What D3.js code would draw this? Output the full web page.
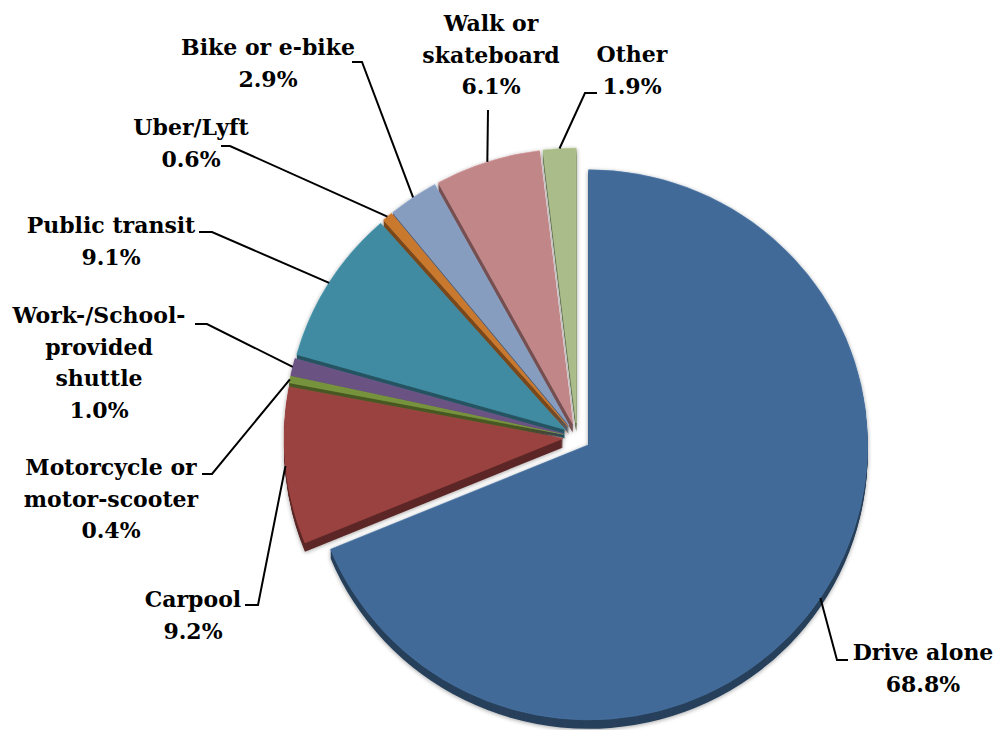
<!DOCTYPE html>
<html>
<head>
<meta charset="utf-8">
<script src="https://cdn.jsdelivr.net/npm/d3@7/dist/d3.min.js"></script>
<style>
  html, body { margin: 0; padding: 0; background: #ffffff; }
  svg { display: block; }
  .lbl { font-family: "DejaVu Serif", serif; font-weight: bold; font-size: 22px; fill: #000; }
</style>
</head>
<body>
<svg id="chart" width="999" height="730"></svg>
<script>
// Commute mode shares (percent of respondents)
const categories = ["Drive alone", "Carpool", "Motorcycle or motor-scooter",
  "Work-/School-provided shuttle", "Public transit", "Uber/Lyft",
  "Bike or e-bike", "Walk or skateboard", "Other"];
const shares = [68.8, 9.2, 0.4, 1.0, 9.1, 0.6, 2.9, 6.1, 1.9];
const labelLines = [["Drive alone"], ["Carpool"], ["Motorcycle or", "motor-scooter"],
  ["Work-/School-", "provided", "shuttle"], ["Public transit"], ["Uber/Lyft"],
  ["Bike or e-bike"], ["Walk or", "skateboard"], ["Other"]];
const sliceColors = ["#436b98", "#9a4240", "#76923c", "#6a5283", "#3f8ba1",
  "#c9792f", "#879dbf", "#c18687", "#a9bc8a"];

// Layout
const W = 999, H = 730;
const cx = 577, cy = 437;      // pie centre before exploding
const rx = 279, ry = 275;      // slightly tilted top face
const explode = 14;            // every slice pulled out from the centre
const depth = 9;               // thickness of the pie

// label block centre x and first baseline y, plus leader stub (label side)
const labelPos = [[923, 660], [193, 607], [111, 475], [99, 323], [111, 233],
  [191, 135], [268, 55], [491, 31], [632, 62]];
const leaderStub = [
  [[848, 660], [837, 660]],
  [[245, 605], [258, 605]],
  [[202, 474], [212, 474]],
  [[195, 324], [207, 324]],
  [[199, 232], [212, 232]],
  [[221, 146], [230, 146]],
  [[352, 62], [362, 62]],
  [[488, 110]],
  [[597, 93], [585, 93]]
];
const lineH = 31.5;

const svg = d3.select("#chart");

const data = categories.map((c, i) => ({ name: c, value: shares[i], color: sliceColors[i], i }));
const pie = d3.pie().sort(null).value(d => d.value).startAngle(0).endAngle(2 * Math.PI);
const arcs = pie(data);
const arc = d3.arc().innerRadius(0).outerRadius(rx);

const ys = ry / rx;
arcs.forEach(a => {
  const mid = (a.startAngle + a.endAngle) / 2;
  a.mid = mid;
  a.vx = cx + explode * Math.sin(mid);
  a.vy = cy - explode * Math.cos(mid);
  a.ox = a.vx + rx * Math.sin(mid);
  a.oy = a.vy - ry * Math.cos(mid);
});

const defs = svg.append("defs");
const f = defs.append("filter").attr("id", "soft").attr("x", "-10%").attr("y", "-10%")
  .attr("width", "120%").attr("height", "120%");
f.append("feGaussianBlur").attr("in", "SourceAlpha").attr("stdDeviation", 2);
f.append("feOffset").attr("dx", 0).attr("dy", 1).attr("result", "b");
f.append("feComponentTransfer").append("feFuncA").attr("type", "linear").attr("slope", 0.35);
const fm = f.append("feMerge");
fm.append("feMergeNode");
fm.append("feMergeNode").attr("in", "SourceGraphic");

const pieG = svg.append("g").attr("filter", "url(#soft)");

// side walls: stacked darker copies below each slice
const sides = pieG.append("g");
for (let k = depth; k >= 1; k--) {
  sides.selectAll(null).data(arcs).join("path")
    .attr("transform", a => `translate(${a.vx},${a.vy + k}) scale(1,${ys})`)
    .attr("d", arc)
    .attr("fill", a => d3.color(a.data.color).darker(1.4))
    .attr("stroke", "none");
}

// top faces
pieG.append("g").selectAll("path").data(arcs).join("path")
  .attr("transform", a => `translate(${a.vx},${a.vy}) scale(1,${ys})`)
  .attr("d", arc)
  .attr("fill", a => a.data.color)
  .attr("stroke", a => d3.color(a.data.color).brighter(0.25))
  .attr("stroke-width", 0.6);

// leader lines
const line = d3.line();
svg.append("g").selectAll("path").data(arcs).join("path")
  .attr("d", a => line([...leaderStub[a.data.i], [a.ox, a.oy]]))
  .attr("fill", "none")
  .attr("stroke", "#000")
  .attr("stroke-width", 2);

// labels: name lines then the share
const fmt = d3.format(".1f");
const lbl = svg.append("g").selectAll("text").data(arcs).join("text")
  .attr("class", "lbl")
  .attr("text-anchor", "middle");
lbl.each(function (a) {
  const [lx, ly] = labelPos[a.data.i];
  const lines = [...labelLines[a.data.i], fmt(a.data.value) + "%"];
  d3.select(this).selectAll("tspan").data(lines).join("tspan")
    .attr("x", lx)
    .attr("y", (t, j) => ly + j * lineH)
    .text(t => t);
});
</script>
</body>
</html>
